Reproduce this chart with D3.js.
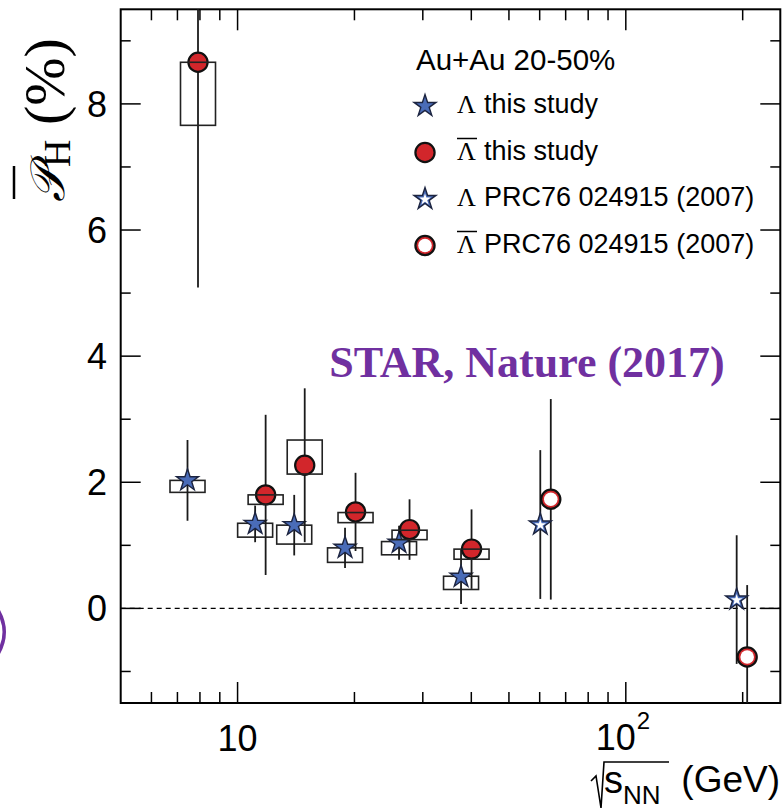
<!DOCTYPE html>
<html lang="en">
<head>
<meta charset="utf-8">
<title>Lambda polarization vs energy</title>
<script src="https://cdn.jsdelivr.net/npm/d3@7"></script>
<style>
    body {
        margin: 0;
        background-color: #ffffff;
    }
    svg text {
        font-family: "Liberation Sans", Arial, Helvetica, sans-serif;
        fill: #000;
    }
    .serif {
        font-family: "Liberation Serif", "Times New Roman", serif;
    }
</style>
</head>
<body>
<svg id="chart" width="782" height="810"></svg>
<script>
    // beam energies (GeV), this study
    var energyThis = [7.7, 11.5, 14.5, 19.6, 27, 39];
    // Lambda, this study
    var lamVal   = [2.03, 1.34, 1.32, 0.96, 1.04, 0.50];
    var lamStat  = [0.64, 0.29, 0.48, 0.32, 0.27, 0.43];
    var lamSysHi = [2.03, 1.35, 1.32, 0.96, 1.06, 0.51];
    var lamSysLo = [1.84, 1.13, 1.02, 0.73, 0.85, 0.30];
    // anti-Lambda, this study
    var alamVal   = [8.66, 1.80, 2.27, 1.53, 1.25, 0.94];
    var alamStat  = [3.57, 1.27, 1.22, 0.62, 0.48, 0.63];
    var alamSysHi = [8.66, 1.80, 2.67, 1.52, 1.24, 0.94];
    var alamSysLo = [7.66, 1.65, 2.13, 1.36, 1.09, 0.78];
    // PRC76 024915 (2007)
    var energyPrev   = [62.4, 200];
    var lamPrevVal   = [1.33, 0.14];
    var lamPrevStat  = [1.18, 1.02];
    var alamPrevVal  = [1.73, -0.77];
    var alamPrevStat = [1.59, 1.14];

    var yMajor = [0, 2, 4, 6, 8];
    var yMinor = [-1, 1, 3, 5, 7, 9];
    var xMajor = [10, 100];
    var xMinor = [6, 7, 8, 9, 20, 30, 40, 50, 60, 70, 80, 90, 200];

    var blue = "#4a6cb8", red = "#d2262b", purple = "#7030a0";
    var svg = d3.select("#chart");

    var x = d3.scaleLog().domain([5, 250]).range([120.7, 780.3]);
    var y = d3.scaleLinear().domain([-1.5, 9.5]).range([703, 9.3]);
    var L = x.range()[0], R = x.range()[1], T = y.range()[1], B = y.range()[0];

    // small left/right shifts so the two species don't overlap
    var dxLam = -6, dxAlam = 4.5;

    svg.append("clipPath").attr("id", "plotclip")
      .append("rect").attr("x", L).attr("y", T).attr("width", R - L).attr("height", B - T);

    // zero line
    svg.append("line")
      .attr("x1", L).attr("x2", R).attr("y1", y(0)).attr("y2", y(0))
      .attr("stroke", "#000").attr("stroke-width", 1.3).attr("stroke-dasharray", "5,4");

    // ticks (inward on all four sides)
    function tickLines(vals, len, axis) {
        vals.forEach(function(v) {
            if (axis == "x") {
                svg.append("line").attr("x1", x(v)).attr("x2", x(v)).attr("y1", B).attr("y2", B - len)
                  .attr("stroke", "#000").attr("stroke-width", 1.5);
                svg.append("line").attr("x1", x(v)).attr("x2", x(v)).attr("y1", T).attr("y2", T + len)
                  .attr("stroke", "#000").attr("stroke-width", 1.5);
            } else {
                svg.append("line").attr("x1", L).attr("x2", L + len).attr("y1", y(v)).attr("y2", y(v))
                  .attr("stroke", "#000").attr("stroke-width", 1.5);
                svg.append("line").attr("x1", R).attr("x2", R - len).attr("y1", y(v)).attr("y2", y(v))
                  .attr("stroke", "#000").attr("stroke-width", 1.5);
            }
        });
    }
    tickLines(xMajor, 21, "x");
    tickLines(xMinor, 11, "x");
    tickLines(yMajor, 20, "y");
    tickLines(yMinor, 10, "y");

    // frame
    svg.append("rect").attr("x", L).attr("y", T).attr("width", R - L).attr("height", B - T)
      .attr("fill", "none").attr("stroke", "#000").attr("stroke-width", 2);

    // y tick labels
    svg.selectAll(".ylab").data(yMajor).enter().append("text")
      .attr("class", "ylab")
      .attr("x", 107).attr("y", function(d) { return y(d) + 13; })
      .attr("text-anchor", "end").style("font-size", "36px")
      .text(function(d) { return d; });

    // x tick labels
    svg.append("text").attr("x", x(10)).attr("y", 751).attr("text-anchor", "middle")
      .style("font-size", "36px").text("10");
    svg.append("text").attr("x", x(100) - 10).attr("y", 750).attr("text-anchor", "middle")
      .style("font-size", "36px").text("10");
    svg.append("text").attr("x", x(100) + 11).attr("y", 729).style("font-size", "24px").text("2");

    // x title: sqrt(s_NN) (GeV)
    svg.append("path").attr("d", "M591,781 L596,776 L601,808 L604,762 L669,762")
      .attr("fill", "none").attr("stroke", "#000").attr("stroke-width", 1.6);
    svg.append("text").attr("x", 604).attr("y", 793).style("font-size", "38px").text("s");
    svg.append("text").attr("x", 623).attr("y", 804).style("font-size", "26px").text("NN");
    svg.append("text").attr("x", 780).attr("y", 792).attr("text-anchor", "end")
      .style("font-size", "37px").text("(GeV)");

    // y title
    var yt = svg.append("g").attr("transform", "translate(64,117) rotate(-90)");
    var ytext = yt.append("text").attr("x", -85).attr("y", 0).attr("class", "serif");
    ytext.append("tspan").style("font-size", "48px").style("font-style", "italic")
      .attr("class", "serif").text("\uD835\uDCAB");
    ytext.append("tspan").attr("class", "serif").attr("dy", 6).style("font-size", "38px").text("H");
    ytext.append("tspan").attr("class", "serif").attr("dy", -6).style("font-size", "58px").text(" (%)");
    var pBox = ytext.node().getExtentOfChar(0);
    yt.append("line").attr("x1", pBox.x + 3).attr("x2", pBox.x + pBox.width + 1)
      .attr("y1", -50).attr("y2", -50).attr("stroke", "#000").attr("stroke-width", 2.5);

    // data layer
    var g = svg.append("g").attr("clip-path", "url(#plotclip)");

    function statBars(xs, vals, errs, dx) {
        g.selectAll(null).data(xs).enter().append("line")
          .attr("x1", function(d) { return x(d) + dx; })
          .attr("x2", function(d) { return x(d) + dx; })
          .attr("y1", function(d, i) { return y(vals[i] + errs[i]); })
          .attr("y2", function(d, i) { return y(vals[i] - errs[i]); })
          .attr("stroke", "#1a1a1a").attr("stroke-width", 1.8);
    }
    function sysBoxes(xs, hi, lo, dx) {
        g.selectAll(null).data(xs).enter().append("rect")
          .attr("x", function(d) { return x(d) + dx - 17.5; })
          .attr("width", 35)
          .attr("y", function(d, i) { return y(hi[i]); })
          .attr("height", function(d, i) { return y(lo[i]) - y(hi[i]); })
          .attr("fill", "none").attr("stroke", "#222").attr("stroke-width", 1.6);
    }

    var starPath = d3.symbol().type(d3.symbolStar).size(150)();
    var starInner = d3.symbol().type(d3.symbolStar).size(42)();

    function drawStar(parent, cx, cy, open) {
        parent.append("path").attr("d", starPath).attr("transform", "translate(" + cx + "," + cy + ")")
          .attr("fill", blue).attr("stroke", "#1c2440").attr("stroke-width", 1.4);
        if (open) {
            parent.append("path").attr("d", starInner).attr("transform", "translate(" + cx + "," + (cy + 0.5) + ")")
              .attr("fill", "#fff");
        }
    }
    function drawCircle(parent, cx, cy, open) {
        parent.append("circle").attr("cx", cx).attr("cy", cy).attr("r", 9.6)
          .attr("fill", red).attr("stroke", "#111").attr("stroke-width", 2.2);
        if (open) {
            parent.append("circle").attr("cx", cx).attr("cy", cy).attr("r", 6.8).attr("fill", "#fff");
        }
    }

    // Lambda, this study
    sysBoxes(energyThis, lamSysHi, lamSysLo, dxLam);
    statBars(energyThis, lamVal, lamStat, dxLam);
    energyThis.forEach(function(e, i) { drawStar(g, x(e) + dxLam, y(lamVal[i]), false); });

    // anti-Lambda, this study
    statBars(energyThis, alamVal, alamStat, dxAlam);
    energyThis.forEach(function(e, i) { drawCircle(g, x(e) + dxAlam, y(alamVal[i]), false); });
    sysBoxes(energyThis, alamSysHi, alamSysLo, dxAlam);

    // previous measurement
    statBars(energyPrev, lamPrevVal, lamPrevStat, dxLam);
    statBars(energyPrev, alamPrevVal, alamPrevStat, dxAlam);
    energyPrev.forEach(function(e, i) { drawStar(g, x(e) + dxLam, y(lamPrevVal[i]), true); });
    energyPrev.forEach(function(e, i) { drawCircle(g, x(e) + dxAlam, y(alamPrevVal[i]), true); });

    // legend
    var legendItems = [
        { label: "this study", bar: false, kind: "star", open: false },
        { label: "this study", bar: true, kind: "circle", open: false },
        { label: "PRC76 024915 (2007)", bar: false, kind: "star", open: true },
        { label: "PRC76 024915 (2007)", bar: true, kind: "circle", open: true }
    ];
    svg.append("text").attr("x", 416).attr("y", 70).style("font-size", "29.5px").text("Au+Au 20-50%");
    legendItems.forEach(function(d, i) {
        var cy = 106 + i * 46.5;
        if (d.kind == "star") drawStar(svg, 425, cy, d.open);
        else drawCircle(svg, 425, cy, d.open);
        svg.append("text").attr("class", "serif").attr("x", 457).attr("y", cy + 7)
          .style("font-size", "26px").text("\u039B");
        if (d.bar) {
            svg.append("line").attr("x1", 457).attr("x2", 477).attr("y1", cy - 14).attr("y2", cy - 14)
              .attr("stroke", "#000").attr("stroke-width", 1.5);
        }
        svg.append("text").attr("x", 484).attr("y", cy + 7).style("font-size", "27px").text(d.label);
    });

    // overlay caption
    svg.append("text").attr("class", "serif").attr("x", 527).attr("y", 377)
      .attr("text-anchor", "middle").style("font-size", "44px").style("font-weight", "bold")
      .style("fill", purple).text("STAR, Nature (2017)");

    // purple mark at left edge
    svg.append("path").attr("d", "M0,610 Q12,632 0,654 L0,645 Q5,632 0,619 Z")
      .attr("fill", purple);
</script>
</body>
</html>
